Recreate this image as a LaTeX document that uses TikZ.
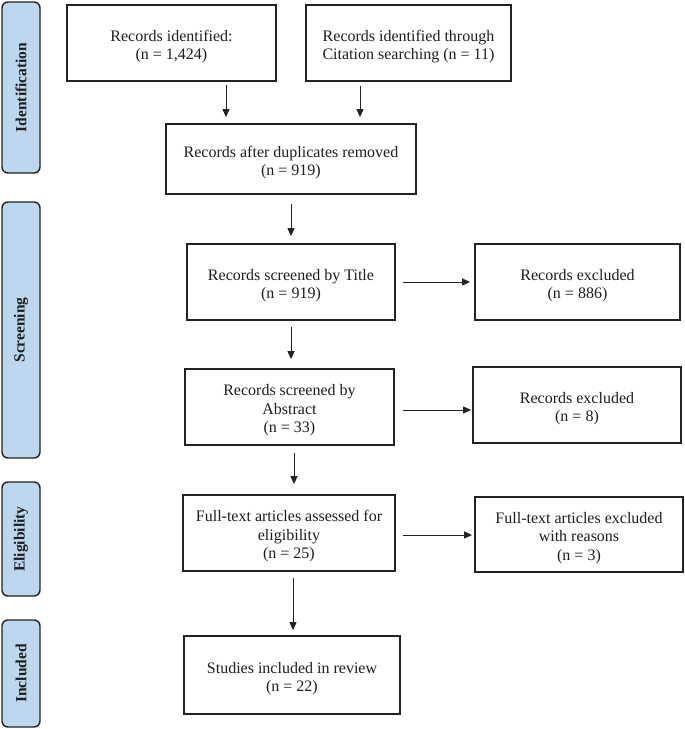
\documentclass[tikz,border=0pt]{standalone}
\usepackage{fontspec}
\setmainfont{Liberation Serif}
\usetikzlibrary{arrows.meta}
\definecolor{sidefill}{RGB}{189,215,238}
\definecolor{ink}{RGB}{34,34,34}
\definecolor{txt}{RGB}{30,30,30}
\begin{document}
\begin{tikzpicture}[x=1pt,y=-1pt,
  box/.style={draw=ink, line width=1.8pt, fill=white, inner sep=0pt},
  lbl/.style={align=center, text=txt, inner sep=0pt, yshift=-3.5pt,
    font=\fontsize{16}{18.5}\selectfont},
  side/.style={draw=ink, line width=1.4pt, fill=sidefill, rounded corners=6pt,
    rotate=90, font=\bfseries\fontsize{15.5}{18}\selectfont, text=txt, inner sep=0pt},
  arr/.style={draw=ink, line width=0.9pt, -{Triangle[length=8pt,width=7pt]}}]
\useasboundingbox (0,0) rectangle (685,729);
% side labels
\node[side, minimum width=171pt, minimum height=38pt] (s1) at (21,87.5) {Identification};
\node[side, minimum width=256pt, minimum height=38pt] (s2) at (21,330) {Screening};
\node[side, minimum width=114pt, minimum height=38pt] (s3) at (21,539) {Eligibility};
\node[side, minimum width=107pt, minimum height=38pt] (s4) at (21,673.5) {Included};
% main boxes
\node[box, minimum width=209pt, minimum height=76pt, label={[lbl]center:{Records identified:\\(n = 1,424)}}] (b1) at (171.5,43) {};
\node[box, minimum width=205pt, minimum height=76pt, label={[lbl]center:{Records identified through\\Citation searching (n = 11)}}] (b2) at (408.5,43) {};
\node[box, minimum width=250pt, minimum height=70pt, label={[lbl]center:{Records after duplicates removed\\(n = 919)}}] (b3) at (291,159) {};
\node[box, minimum width=208pt, minimum height=76pt, label={[lbl]center:{Records screened by Title\\(n = 919)}}] (b4) at (291,282) {};
\node[box, minimum width=209pt, minimum height=76pt, label={[lbl]center:{Records screened by\\Abstract\\(n = 33)}}] (b5) at (289.5,407) {};
\node[box, minimum width=212pt, minimum height=76pt, label={[lbl]center:{Full-text articles assessed for\\eligibility\\(n = 25)}}] (b6) at (289,533) {};
\node[box, minimum width=216pt, minimum height=78pt, label={[lbl]center:{Studies included in review\\(n = 22)}}] (b7) at (292,675) {};
% excluded boxes
\node[box, minimum width=205pt, minimum height=76pt, label={[lbl]center:{Records excluded\\(n = 886)}}] (e1) at (577.5,282) {};
\node[box, minimum width=208pt, minimum height=76pt, label={[lbl]center:{Records excluded\\(n = 8)}}] (e2) at (577,405) {};
\node[box, minimum width=208pt, minimum height=75pt, label={[lbl]center:{Full-text articles excluded\\with reasons\\(n = 3)}}] (e3) at (579,534.5) {};
% arrow x positions
\coordinate (c1) at (226,0);
\coordinate (c2) at (360,0);
\coordinate (c3) at (291,0);
\coordinate (c4) at (294,0);
\coordinate (c5) at (293,0);
% vertical arrows
\draw[arr, shorten <=3pt, shorten >=6pt] (b1.south -| c1) -- (b3.north -| c1);
\draw[arr, shorten <=4pt, shorten >=6pt] (b2.south -| c2) -- (b3.north -| c2);
\draw[arr, shorten <=9pt, shorten >=7pt] (b3.south -| c3) -- (b4.north -| c3);
\draw[arr, shorten <=6pt, shorten >=9pt] (b4.south -| c3) -- (b5.north -| c3);
\draw[arr, shorten <=7pt, shorten >=10pt] (b5.south -| c4) -- (b6.north -| c4);
\draw[arr, shorten <=6pt, shorten >=5pt] (b6.south -| c5) -- (b7.north -| c5);
% horizontal arrows
\draw[arr, shorten <=7pt, shorten >=4pt] (b4.east) -- (b4.east -| e1.west);
\draw[arr, shorten <=8pt, shorten >=1pt] ([yshift=-3pt]b5.east) -- ([yshift=-3pt]b5.east -| e2.west);
\draw[arr, shorten <=7pt, shorten >=2pt] ([yshift=-2pt]b6.east) -- ([yshift=-2pt]b6.east -| e3.west);
\end{tikzpicture}
\end{document}
